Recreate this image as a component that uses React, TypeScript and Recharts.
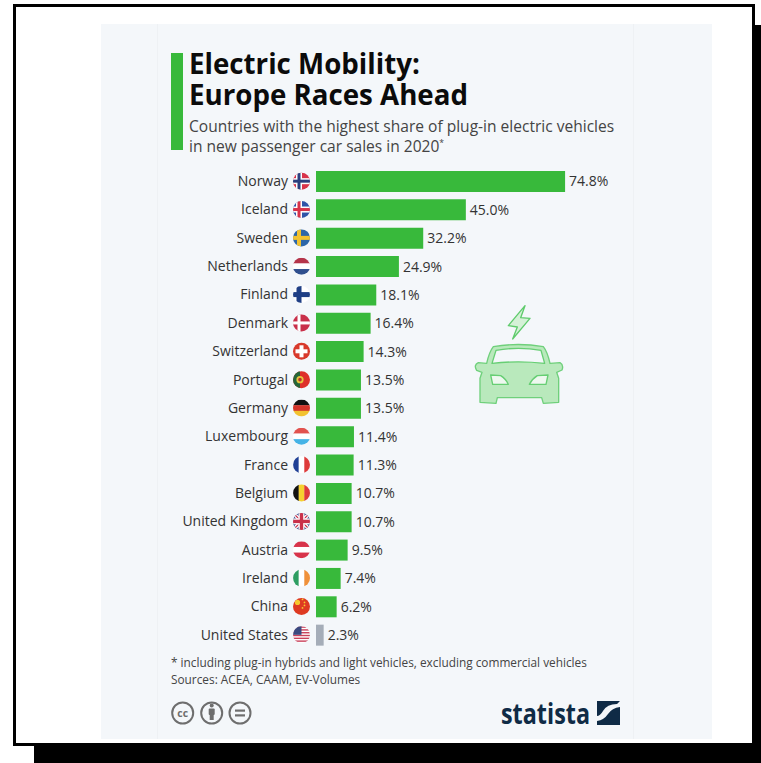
import React from "react";
import { BarChart, Bar, XAxis, YAxis, Cell, LabelList } from "recharts";

const countries = ["Norway","Iceland","Sweden","Netherlands","Finland","Denmark","Switzerland","Portugal","Germany","Luxembourg","France","Belgium","United Kingdom","Austria","Ireland","China","United States"];
const shares = [74.8,45.0,32.2,24.9,18.1,16.4,14.3,13.5,13.5,11.4,11.3,10.7,10.7,9.5,7.4,6.2,2.3];
const greyCountries = ["United States"];
const titleLines = ["Electric Mobility:","Europe Races Ahead"];
const subtitleLines = ["Countries with the highest share of plug-in electric vehicles","in new passenger car sales in 2020"];
const footLines = ["* including plug-in hybrids and light vehicles, excluding commercial vehicles","Sources: ACEA, CAAM, EV-Volumes"];

const rows = countries.map((country, i) => ({ country, share: shares[i] }));
const FONT = "'Open Sans', sans-serif";
const GREEN = "#38B93B";

function cross(v: number, h: number, w: number, c: string) {
  return <g><rect x={v - w / 2} y={-10} width={w} height={20} fill={c} /><rect x={-10} y={h - w / 2} width={20} height={w} fill={c} /></g>;
}
function hStripes(cs: string[]) {
  const h = 16.8 / cs.length;
  return <g>{cs.map((c, i) => <rect key={i} x={-10} y={-8.4 + i * h} width={20} height={h + 0.2} fill={c} />)}</g>;
}
function vStripes(cs: string[]) {
  const w = 16.8 / cs.length;
  return <g>{cs.map((c, i) => <rect key={i} x={-8.4 + i * w} y={-10} width={w + 0.2} height={20} fill={c} />)}</g>;
}
function flagArt(name: string) {
  switch (name) {
    case "Norway": return <g><rect x={-10} y={-10} width={20} height={20} fill="#D8334A" />{cross(-2.5, 0, 6, "#fff")}{cross(-2.5, 0, 3, "#2B3F7E")}</g>;
    case "Iceland": return <g><rect x={-10} y={-10} width={20} height={20} fill="#2F54A8" />{cross(-2.5, 0, 6, "#fff")}{cross(-2.5, 0, 3, "#D8334A")}</g>;
    case "Sweden": return <g><rect x={-10} y={-10} width={20} height={20} fill="#2E67A8" />{cross(-2.5, 0, 4, "#F2C230")}</g>;
    case "Netherlands": return hStripes(["#B5344A", "#fff", "#2F4F8E"]);
    case "Finland": return <g><rect x={-10} y={-10} width={20} height={20} fill="#fff" />{cross(-2.5, 0, 5, "#1F3F85")}</g>;
    case "Denmark": return <g><rect x={-10} y={-10} width={20} height={20} fill="#C9304A" />{cross(-2.5, 0, 3, "#fff")}</g>;
    case "Switzerland": return <g><rect x={-10} y={-10} width={20} height={20} fill="#D8392B" /><rect x={-2} y={-6} width={4} height={12} fill="#fff" /><rect x={-6} y={-2} width={12} height={4} fill="#fff" /></g>;
    case "Portugal": return <g><rect x={-10} y={-10} width={20} height={20} fill="#DE2F2A" /><rect x={-10} y={-10} width={8.5} height={20} fill="#24663A" /><circle cx={-1.5} cy={0} r={3.6} fill="#E7C33C" /><circle cx={-1.5} cy={0} r={1.8} fill="#B8332A" /></g>;
    case "Germany": return hStripes(["#111", "#D4342A", "#F2C230"]);
    case "Luxembourg": return hStripes(["#E2524E", "#fff", "#45B3E6"]);
    case "France": return vStripes(["#1F3F95", "#fff", "#DE3B3B"]);
    case "Belgium": return vStripes(["#111", "#F5D130", "#DE3B3B"]);
    case "United Kingdom": return <g><rect x={-10} y={-10} width={20} height={20} fill="#27397F" /><path d="M-10-10L10 10M10-10L-10 10" stroke="#fff" strokeWidth={3.6} /><path d="M-10-10L10 10M10-10L-10 10" stroke="#C9304A" strokeWidth={1.2} />{cross(0, 0, 6, "#fff")}{cross(0, 0, 3.4, "#C9304A")}</g>;
    case "Austria": return hStripes(["#D8334A", "#fff", "#D8334A"]);
    case "Ireland": return vStripes(["#2E9E62", "#fff", "#F0913A"]);
    case "China": return <g><rect x={-10} y={-10} width={20} height={20} fill="#DE3A22" /><circle cx={-4} cy={-4} r={2.6} fill="#F5C92E" /><circle cx={1} cy={-7} r={0.9} fill="#F5C92E" /><circle cx={3} cy={-4} r={0.9} fill="#F5C92E" /><circle cx={3} cy={-1} r={0.9} fill="#F5C92E" /><circle cx={1} cy={1.5} r={0.9} fill="#F5C92E" /></g>;
    default: return <g><rect x={-10} y={-10} width={20} height={20} fill="#fff" />{[-8.4,-5.6,-2.8,0,2.8,5.6].map(y => <rect key={y} x={-10} y={y} width={20} height={1.4} fill="#C9405A" />)}<rect x={-10} y={-10} width={10} height={10} fill="#3A4A80" /></g>;
  }
}

function CountryTick(props: any) {
  const { y, payload } = props;
  const name: string = payload.value;
  const id = "f" + name.replace(/\s/g, "");
  const edge = 316;
  return (
    <g>
      <text x={edge - 28} y={y} dy="0.35em" textAnchor="end" fontFamily={FONT} fontSize={14} fill="#333">{name}</text>
      <g transform={`translate(${edge - 14.5},${y})`}>
        <clipPath id={id}><circle r={8.5} /></clipPath>
        <g clipPath={`url(#${id})`}>{flagArt(name)}</g>
      </g>
    </g>
  );
}

function Car() {
  return (
    <svg style={{ position: "absolute", left: 460, top: 295 }} width={120} height={120} viewBox="0 0 360 360">
      <path d="M195 32L145 92L172 96L158 132L210 70L182 68Z" fill="#D5F1D7" stroke="#5FCB6C" strokeWidth={4} strokeLinejoin="round" />
      <path d="M100 155Q175 142 250 155Q262 170 270 205L300 203Q312 210 306 225L290 232L296 250L296 322L250 325L245 308L112 308L108 325L60 322L60 250L66 232L50 226Q40 210 55 203L80 205Q88 170 100 155Z" fill="#B9E9BC" stroke="#6FD07B" strokeWidth={4} strokeLinejoin="round" />
      <path d="M108 166Q175 154 243 166L254 205Q175 196 96 205Z" fill="#F4F7FA" stroke="#66CE73" strokeWidth={4} strokeLinejoin="round" />
      <path d="M92 240L122 242Q138 252 145 268L98 268Z" fill="#EEF8EF" stroke="#66CE73" strokeWidth={4} strokeLinejoin="round" />
      <path d="M264 240L232 242Q216 252 208 268L258 268Z" fill="#EEF8EF" stroke="#66CE73" strokeWidth={4} strokeLinejoin="round" />
    </svg>
  );
}

function Footer() {
  return (
    <svg style={{ position: "absolute", left: 0, top: 690 }} width={761} height={50}>
      <g fill="none" stroke="#6E6E6E" strokeWidth={2}>
        <circle cx={182.7} cy={23} r={10.5} />
        <circle cx={211.7} cy={23} r={10.5} />
        <circle cx={240} cy={23} r={10.5} />
      </g>
      <text x={182.7} y={26.5} textAnchor="middle" fontFamily={FONT} fontWeight={700} fontSize={10.5} fill="#6E6E6E">cc</text>
      <circle cx={211.7} cy={15.5} r={2} fill="#6E6E6E" />
      <rect x={208.7} y={18.5} width={6} height={6.5} rx={1} fill="#6E6E6E" />
      <rect x={209.7} y={24} width={4} height={6} fill="#6E6E6E" />
      <rect x={235} y={19.5} width={10} height={2.2} fill="#6E6E6E" />
      <rect x={235} y={24.3} width={10} height={2.2} fill="#6E6E6E" />
      <text x={501} y={33.5} textLength={89} lengthAdjust="spacingAndGlyphs" fontFamily={FONT} fontWeight={700} fontSize={28} fill="#0F2B46">statista</text>
      <rect x={597} y={11} width={23} height={24} fill="#0F2B46" />
      <path d="M597 31Q604 30 608 24Q612 18 620 17L620 11L617 14Q607 14 603 21Q600 26 597 26Z" fill="#F4F7FA" />
    </svg>
  );
}

const abs = (left: number, top: number, extra: React.CSSProperties = {}): React.CSSProperties => ({ position: "absolute", left, top, whiteSpace: "nowrap", fontFamily: FONT, transformOrigin: "left top", ...extra });

export default function App() {
  return (
    <div style={{ position: "absolute", left: 0, top: 0, width: 761, height: 763, overflow: "hidden", background: "#fff" }}>
      <div style={{ position: "absolute", left: 34, top: 25, width: 727, height: 738, background: "#000" }} />
      <div style={{ position: "absolute", left: 13, top: 4, width: 742, height: 742, boxSizing: "border-box", border: "3px solid #000", background: "#fff" }} />
      <div style={{ position: "absolute", left: 101, top: 24, width: 611, height: 715, background: "#F4F7FA" }} />
      <div style={{ position: "absolute", left: 157, top: 24, width: 477, height: 715, boxSizing: "border-box", borderLeft: "1px solid #EEF1F4", borderRight: "1px solid #EEF1F4" }} />
      <div style={{ position: "absolute", left: 171, top: 53, width: 12, height: 97, background: GREEN }} />
      {titleLines.map((t, i) => (
        <div key={t} style={abs(189, 48 + i * 31, { fontSize: 27.7, fontWeight: 700, color: "#0b0b0b", lineHeight: "30px" })}>{t}</div>
      ))}
      {subtitleLines.map((t, i) => (
        <div key={t} style={abs(189, 117 + i * 19.5, { fontSize: 16.3, color: "#444", lineHeight: "18px", transform: "scaleX(0.955)" })}>
          {t}{i === 1 && <sup style={{ fontSize: 9, lineHeight: 0 }}>*</sup>}
        </div>
      ))}
      <div style={{ position: "absolute", left: 0, top: 0 }}>
        <BarChart width={761} height={763} data={rows} layout="vertical" margin={{ top: 167, right: 112, bottom: 114, left: 0 }}>
          <XAxis type="number" hide domain={[0, 100]} />
          <YAxis type="category" dataKey="country" width={316} interval={0} axisLine={false} tickLine={false} tick={<CountryTick />} />
          <Bar dataKey="share" barSize={21} isAnimationActive={false}>
            {rows.map(r => <Cell key={r.country} fill={greyCountries.includes(r.country) ? "#A5ADB8" : GREEN} />)}
            <LabelList dataKey="share" position="right" offset={4} formatter={(v: number) => `${v.toFixed(1)}%`} style={{ fontFamily: FONT, fontSize: 14, fill: "#333" }} />
          </Bar>
        </BarChart>
      </div>
      <Car />
      {footLines.map((t, i) => (
        <div key={t} style={abs(171, 655 + i * 17, { fontSize: 12.4, color: "#444", lineHeight: "16px", transform: "scaleX(0.955)" })}>{t}</div>
      ))}
      <Footer />
    </div>
  );
}
